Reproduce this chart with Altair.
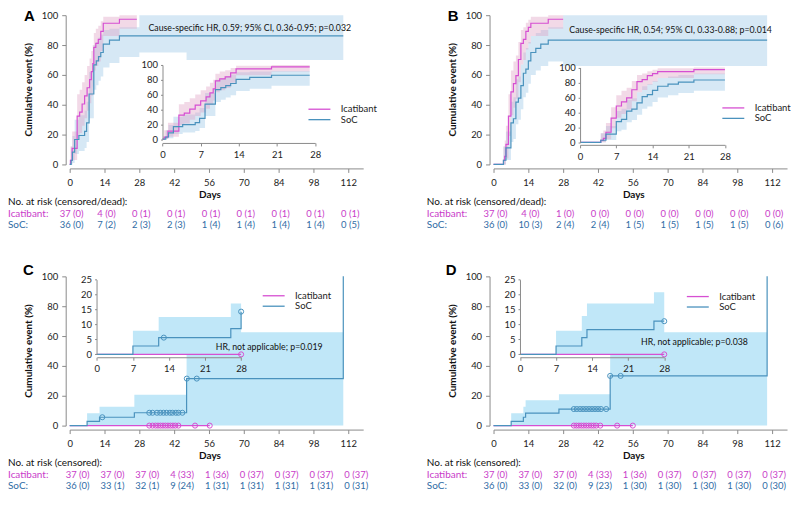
import altair as alt
import pandas as pd

FONT = "Lato"
AXC = "#8a8a8a"
LBL = "#222222"
C_IC = "#d64fd2"
C_SOC = "#4a92bd"
T_IC = "#c93cc9"
T_SOC = "#2f6ca5"
BAND_IC = "#dfa0c4"
BAND_SOC = "#a3cde9"
BAND_SOC_CD = "#c0e7f8"

GROUPS = ["Icatibant", "SoC"]
RISK_T = [0, 14, 28, 42, 56, 70, 84, 98, 112]
Y_TICKS = [0, 20, 40, 60, 80, 100]
INSET_X_TICKS = [0, 7, 14, 21, 28]
INSET_Y_TICKS_CD = [0, 5, 10, 15, 20, 25]

# ---------------- Panel A ----------------
A_IC_T = [0, 0.3, 1, 3, 4, 5, 6, 7, 8, 8.7, 9.3, 9.7, 10.5, 11.5, 12.5, 13.5, 20, 27]
A_IC_V = [0, 2.7, 10.8, 32.4, 35.1, 40.5, 45.9, 51.4, 56.8, 62.2, 67.6, 78.4, 81.1, 83.8, 89.2, 94.6, 97.3, 97.3]
A_IC_LO = [0, 0, 3, 19, 21, 26, 31, 36, 41, 46, 52, 63, 66, 69, 76, 86, 91, 91]
A_IC_HI = [0, 12, 22, 47, 50, 55, 60, 66, 71, 76, 80, 88, 91, 93, 96, 99, 100, 100]
A_SOC_T = [0, 0.6, 1.1, 2, 3.7, 6, 6.8, 7.8, 9.7, 10.7, 11.6, 12.5, 13.5, 16, 20, 110]
A_SOC_V = [0, 2.8, 8.3, 16.7, 19.4, 22.2, 27.8, 47.2, 66.7, 69.4, 72.2, 75.0, 80.6, 83.3, 86.1, 86.1]
A_SOC_BT = [0, 0.6, 1.1, 2, 3.7, 6, 6.8, 7.8, 9.7, 10.7, 11.6, 12.5, 13.5, 16, 20, 28, 47, 110]
A_SOC_LO = [0, 0, 1, 7, 9, 11, 15, 31, 50, 53, 56, 59, 65, 68, 72, 75, 70, 70]
A_SOC_HI = [0, 12, 19, 30, 33, 36, 42, 62, 80, 82, 85, 87, 90, 91, 92, 100, 100, 100]
A_RISK_IC = ["37 (0)", "4 (0)", "0 (1)", "0 (1)", "0 (1)", "0 (1)", "0 (1)", "0 (1)", "0 (1)"]
A_RISK_SOC = ["36 (0)", "7 (2)", "2 (3)", "2 (3)", "1 (4)", "1 (4)", "1 (4)", "1 (4)", "0 (5)"]

# ---------------- Panel B ----------------
B_IC_T = [0, 4, 4.5, 5, 6, 7, 8, 9, 10, 11, 12, 13, 14, 15, 22, 28]
B_IC_V = [0, 2.7, 5.4, 13.5, 32.4, 48.6, 54.1, 59.5, 70.3, 81.1, 83.8, 89.2, 91.9, 94.6, 97.3, 97.3]
B_IC_LO = [0, 0, 0, 4, 19, 33, 38, 44, 55, 67, 70, 77, 81, 86, 91, 91]
B_IC_HI = [0, 12, 16, 26, 47, 63, 69, 73, 82, 90, 92, 95, 97, 99, 100, 100]
B_SOC_T = [0, 4, 5, 7, 8, 9, 10, 11, 12, 13, 14, 15, 17, 19, 22, 110]
B_SOC_V = [0, 2.8, 11.1, 27.8, 30.6, 41.7, 44.4, 52.8, 61.1, 63.9, 69.4, 75.0, 77.8, 80.6, 83.3, 83.3]
B_SOC_BT = [0, 4, 5, 7, 8, 9, 10, 11, 12, 13, 14, 15, 17, 19, 22, 28, 110]
B_SOC_LO = [0, 0, 3, 15, 17, 27, 30, 37, 45, 48, 54, 60, 63, 66, 69, 66, 66]
B_SOC_HI = [0, 12, 22, 42, 45, 57, 59, 67, 75, 78, 82, 86, 88, 90, 92, 100, 100]
B_RISK_IC = ["37 (0)", "4 (0)", "1 (0)", "0 (0)", "0 (0)", "0 (0)", "0 (0)", "0 (0)", "0 (0)"]
B_RISK_SOC = ["36 (0)", "10 (3)", "2 (4)", "2 (4)", "1 (5)", "1 (5)", "1 (5)", "1 (5)", "0 (6)"]

# ---------------- Panel C ----------------
C_IC_T = [0, 56.3]
C_IC_V = [0, 0]
C_IC_CENS_T = [32, 33.3, 34.5, 35.5, 36.5, 37.5, 38.5, 39.5, 40.5, 41.5, 42.5, 43.7, 50.4, 56.3]
C_SOC_T = [0, 7, 12, 26, 47, 110]
C_SOC_V = [0, 2.8, 5.6, 8.6, 31.5, 100]
C_SOC_CENS_T = [13.1, 32, 33.3, 35.1, 36.4, 37.7, 38.9, 40.3, 41.3, 42.7, 43.7, 45.3, 47.1, 51.1]
C_SOC_CENS_V = [5.6, 8.6, 8.6, 8.6, 8.6, 8.6, 8.6, 8.6, 8.6, 8.6, 8.6, 8.6, 31.5, 31.5]
C_SOC_BT = [7, 12, 26, 47, 110]
C_SOC_BLO = [0, 0, 0, 0, 0]
C_SOC_BHI = [8.3, 12.6, 20.7, 62.6, 62.6]
CI_IC_T = [0, 28]
CI_IC_V = [0, 0]
CI_IC_CENS_T = [28]
CI_SOC_T = [0, 7, 12, 26, 28]
CI_SOC_V = [0, 2.8, 5.6, 8.6, 14.3]
CI_SOC_CENS_T = [13, 28]
CI_SOC_CENS_V = [5.6, 14.3]
CI_SOC_BT = [7, 12, 26, 28]
CI_SOC_BLO = [0, 0, 0, 0]
CI_SOC_BHI = [7.9, 12.5, 17.0, 17.0]
C_RISK_IC = ["37 (0)", "37 (0)", "37 (0)", "4 (33)", "1 (36)", "0 (37)", "0 (37)", "0 (37)", "0 (37)"]
C_RISK_SOC = ["36 (0)", "33 (1)", "32 (1)", "9 (24)", "1 (31)", "1 (31)", "1 (31)", "1 (31)", "0 (31)"]

# ---------------- Panel D ----------------
D_IC_T = [0, 56]
D_IC_V = [0, 0]
D_IC_CENS_T = [32.3, 33.3, 34.3, 35.3, 36.3, 37.3, 38.3, 39.3, 40.3, 41.3, 42.9, 49.7, 56]
D_SOC_T = [0, 7.1, 12, 12.9, 26.3, 46.9, 110]
D_SOC_V = [0, 2.8, 5.6, 8.3, 11.1, 33.3, 100]
D_SOC_CENS_T = [32.3, 33.5, 34.8, 36, 37.2, 38.4, 39.6, 40.8, 42, 43.2, 45.3, 46.9, 51.1]
D_SOC_CENS_V = [11.1, 11.1, 11.1, 11.1, 11.1, 11.1, 11.1, 11.1, 11.1, 11.1, 11.1, 33.3, 33.3]
D_SOC_BT = [7.1, 12, 12.9, 26.3, 46.9, 110]
D_SOC_BLO = [0, 0, 0, 0, 0, 0]
D_SOC_BHI = [8.3, 12.6, 17, 21, 62.6, 62.6]
DI_IC_T = [0, 28]
DI_IC_V = [0, 0]
DI_IC_CENS_T = [28]
DI_SOC_T = [0, 7, 12, 13, 26, 28]
DI_SOC_V = [0, 2.8, 5.6, 8.3, 11.1, 11.1]
DI_SOC_CENS_T = [28]
DI_SOC_CENS_V = [11.1]
DI_SOC_BT = [7, 12, 13, 26, 28]
DI_SOC_BLO = [0, 0, 0, 0, 0]
DI_SOC_BHI = [7.9, 12.8, 17, 20.8, 20.8]
D_RISK_IC = ["37 (0)", "37 (0)", "37 (0)", "4 (33)", "1 (36)", "0 (37)", "0 (37)", "0 (37)", "0 (37)"]
D_RISK_SOC = ["36 (0)", "33 (0)", "32 (0)", "9 (23)", "1 (30)", "1 (30)", "1 (30)", "1 (30)", "0 (30)"]

W, H = 295, 150
X_MAX = 118
ROW_Y = dict(days=181, label=187.5, ic=199.5, soc=210.5)


def clip(end, t, *cols):
    keep = [i for i, a in enumerate(t) if a <= end]
    out_t = [t[i] for i in keep]
    out_cols = [[c[i] for i in keep] for c in cols]
    if out_t[-1] < end:
        out_t.append(end)
        for c in out_cols:
            c.append(c[-1])
    return [out_t] + out_cols


def text_layer(txt, x, y, size=9.5, bold=False, color=LBL, align="left",
               baseline="middle", angle=0, font=FONT):
    return alt.Chart(pd.DataFrame({"s": [txt]})).mark_text(
        font=font, fontSize=size, fontWeight="bold" if bold else "normal",
        color=color, align=align, baseline=baseline, angle=angle
    ).encode(x=alt.value(x), y=alt.value(y), text="s:N")


def axis(values, offset, tick, pad, orient=None, z=0):
    kw = dict(values=values, title=None, grid=False, offset=offset, tickSize=tick,
              labelPadding=pad, domainColor=AXC, tickColor=AXC, domainWidth=1,
              labelFont=FONT, labelFontSize=9.5, labelColor=LBL,
              labelFlush=False, labelOverlap=False, zindex=z)
    if orient:
        kw["orient"] = orient
    return alt.Axis(**kw)


def group_layers(sx, sy, axx, axy, bands, lines, cens, legend):
    X = lambda f: alt.X(f, type="quantitative", scale=sx, axis=axx)
    Y = lambda f: alt.Y(f, type="quantitative", scale=sy, axis=axy)
    layers = []
    for (t, lo, hi, col, op) in bands:
        df = pd.DataFrame({"t": t, "lo": lo, "hi": hi})
        layers.append(alt.Chart(df).mark_area(interpolate="step-after", color=col, opacity=op)
                      .encode(x=X("t"), y=Y("lo"), y2=alt.Y2("hi")))
    rows = []
    for (g, t, v) in lines:
        for a, b in zip(t, v):
            rows.append({"g": g, "t": a, "v": b})
    color = alt.Color("g:N", scale=alt.Scale(domain=GROUPS, range=[C_IC, C_SOC]), legend=legend)
    layers.append(alt.Chart(pd.DataFrame(rows)).mark_line(interpolate="step-after", strokeWidth=1.2)
                  .encode(x=X("t"), y=Y("v"), color=color))
    for (t, v, col) in cens:
        df = pd.DataFrame({"t": t, "v": v})
        layers.append(alt.Chart(df).mark_point(shape="circle", filled=False, size=26, strokeWidth=1,
                                               color=col, opacity=1)
                      .encode(x=X("t"), y=Y("v")))
    return layers, X


def panel(c):
    sx = alt.Scale(domain=[0, X_MAX], nice=False, zero=False)
    sy = alt.Scale(domain=[0, 100], nice=False, zero=False)
    axx = axis(RISK_T, 4, 4, 5)
    axy = axis(Y_TICKS, 4, 4, 4)
    legend = alt.Legend(orient="none", legendX=c["legend"][0], legendY=c["legend"][1], title=None,
                        symbolType="M-1,0H3.9", symbolSize=81, symbolStrokeWidth=1.3,
                        labelOffset=22.5, labelFont=FONT, labelFontSize=9.5, labelColor=LBL,
                        rowPadding=0.5, padding=0)
    main_layers, X = group_layers(sx, sy, axx, axy, c["bands"], c["lines"], c["cens"], legend)

    risk = pd.DataFrame({"t": RISK_T, "ic": c["risk_ic"], "soc": c["risk_soc"]})
    main_layers.append(alt.Chart(risk).mark_text(font=FONT, fontSize=9.5, color=T_IC, dx=c["risk_dx"])
                       .encode(x=X("t"), y=alt.value(ROW_Y["ic"]), text="ic:N"))
    main_layers.append(alt.Chart(risk).mark_text(font=FONT, fontSize=9.5, color=T_SOC, dx=c["risk_dx"])
                       .encode(x=X("t"), y=alt.value(ROW_Y["soc"]), text="soc:N"))

    ins = c["inset"]
    isx = alt.Scale(domain=[0, 28], range=[ins["x0"], ins["x1"]], nice=False, zero=False)
    isy = alt.Scale(domain=[0, ins["ymax"]], range=[ins["yb"], ins["yt"]], nice=False, zero=False)
    iaxx = axis(INSET_X_TICKS, ins["xoff"], 3, 3.5, orient="bottom", z=1)
    iaxy = axis(ins["yticks"], ins["yoff"], 2, 3, orient="left", z=1)
    inset_layers, _ = group_layers(isx, isy, iaxx, iaxy, ins["bands"], ins["lines"], ins["cens"], legend)

    text_layers = [
        text_layer(c["letter"], c["letter_x"], c["letter_y"], size=15, bold=True, color="#000000",
                   baseline="top", font="Liberation Sans"),
        text_layer("Cumulative event (%)", -41, 75, size=10, bold=True, color="#111111",
                   align="center", angle=270),
        text_layer("Days", 141, ROW_Y["days"], size=10, bold=True, color="#111111", align="center"),
        text_layer(c["risk_label"], c["risk_x"], ROW_Y["label"], size=10, color="#111111"),
        text_layer("Icatibant:", c["risk_x"], ROW_Y["ic"], size=10, color=T_IC),
        text_layer("SoC:", c["risk_x"], ROW_Y["soc"], size=10, color=T_SOC),
        text_layer(c["hr"], c["hr_pos"][0], c["hr_pos"][1], size=8.8, align="center", color="#111111"),
    ]

    return alt.layer(alt.layer(*main_layers), alt.layer(*inset_layers), *text_layers).resolve_scale(
        x="independent", y="independent").properties(width=W, height=H)


def ab_inset(end, ic, soc, socb, geom):
    it, iv, ilo, ihi = clip(end, *ic)
    st, sv = clip(end, *soc)
    bt, blo, bhi = clip(end, *socb)
    d = dict(geom)
    d["bands"] = [(bt, blo, bhi, BAND_SOC, 0.45), (it, ilo, ihi, BAND_IC, 0.4)]
    d["lines"] = [("Icatibant", it, iv), ("SoC", st, sv)]
    d["cens"] = []
    return d


cfgA = dict(
    letter="A", letter_x=-46, letter_y=-6, risk_label="No. at risk (censored/dead):",
    risk_x=-62, risk_dx=2, risk_ic=A_RISK_IC, risk_soc=A_RISK_SOC,
    hr="Cause-specific HR, 0.59; 95% CI, 0.36-0.95; p=0.032", hr_pos=(181, 12.4),
    bands=[(A_SOC_BT, A_SOC_LO, A_SOC_HI, BAND_SOC, 0.45), (A_IC_T, A_IC_LO, A_IC_HI, BAND_IC, 0.4)],
    lines=[("Icatibant", A_IC_T, A_IC_V), ("SoC", A_SOC_T, A_SOC_V)],
    cens=[], legend=(239, 89),
    inset=ab_inset(27, (A_IC_T, A_IC_V, A_IC_LO, A_IC_HI), (A_SOC_T, A_SOC_V),
                   (A_SOC_BT, A_SOC_LO, A_SOC_HI),
                   dict(x0=93.3, x1=246.7, yb=124.5, yt=50, ymax=100, yticks=Y_TICKS,
                        xoff=-21.6, yoff=-93.3)),
)

cfgB = dict(
    letter="B", letter_x=-46, letter_y=-6, risk_label="No. at risk (censored/dead):",
    risk_x=-67, risk_dx=2, risk_ic=B_RISK_IC, risk_soc=B_RISK_SOC,
    hr="Cause-specific HR, 0.54; 95% CI, 0.33-0.88; p=0.014", hr_pos=(178, 14.4),
    bands=[(B_SOC_BT, B_SOC_LO, B_SOC_HI, BAND_SOC, 0.45), (B_IC_T, B_IC_LO, B_IC_HI, BAND_IC, 0.4)],
    lines=[("Icatibant", B_IC_T, B_IC_V), ("SoC", B_SOC_T, B_SOC_V)],
    cens=[], legend=(229, 87.7),
    inset=ab_inset(28, (B_IC_T, B_IC_V, B_IC_LO, B_IC_HI), (B_SOC_T, B_SOC_V),
                   (B_SOC_BT, B_SOC_LO, B_SOC_HI),
                   dict(x0=87, x1=232.6, yb=127.8, yt=52.6, ymax=100, yticks=Y_TICKS,
                        xoff=-19.7, yoff=-87)),
)

cfgC = dict(
    letter="C", letter_x=-47, letter_y=-13, risk_label="No. at risk (censored):",
    risk_x=-62, risk_dx=8, risk_ic=C_RISK_IC, risk_soc=C_RISK_SOC,
    hr="HR, not applicable; p=0.019", hr_pos=(200.5, 71),
    bands=[(C_SOC_BT, C_SOC_BLO, C_SOC_BHI, BAND_SOC_CD, 1)],
    lines=[("Icatibant", C_IC_T, C_IC_V), ("SoC", C_SOC_T, C_SOC_V)],
    cens=[(C_IC_CENS_T, [0] * len(C_IC_CENS_T), C_IC), (C_SOC_CENS_T, C_SOC_CENS_V, C_SOC)],
    legend=(193, 14),
    inset=dict(x0=27.3, x1=172.3, yb=78.4, yt=3.3, ymax=25, yticks=INSET_Y_TICKS_CD,
               xoff=-68.7, yoff=-27,
               bands=[(CI_SOC_BT, CI_SOC_BLO, CI_SOC_BHI, BAND_SOC_CD, 1)],
               lines=[("Icatibant", CI_IC_T, CI_IC_V), ("SoC", CI_SOC_T, CI_SOC_V)],
               cens=[(CI_IC_CENS_T, [0], C_IC), (CI_SOC_CENS_T, CI_SOC_CENS_V, C_SOC)]),
)

cfgD = dict(
    letter="D", letter_x=-48, letter_y=-13, risk_label="No. at risk (censored):",
    risk_x=-67, risk_dx=2, risk_ic=D_RISK_IC, risk_soc=D_RISK_SOC,
    hr="HR, not applicable; p=0.038", hr_pos=(202, 66),
    bands=[(D_SOC_BT, D_SOC_BLO, D_SOC_BHI, BAND_SOC_CD, 1)],
    lines=[("Icatibant", D_IC_T, D_IC_V), ("SoC", D_SOC_T, D_SOC_V)],
    cens=[(D_IC_CENS_T, [0] * len(D_IC_CENS_T), C_IC), (D_SOC_CENS_T, D_SOC_CENS_V, C_SOC)],
    legend=(193.3, 14.8),
    inset=dict(x0=26.6, x1=171.6, yb=78.4, yt=3.3, ymax=25, yticks=INSET_Y_TICKS_CD,
               xoff=-68.7, yoff=-26.6,
               bands=[(DI_SOC_BT, DI_SOC_BLO, DI_SOC_BHI, BAND_SOC_CD, 1)],
               lines=[("Icatibant", DI_IC_T, DI_IC_V), ("SoC", DI_SOC_T, DI_SOC_V)],
               cens=[(DI_IC_CENS_T, [0], C_IC), (DI_SOC_CENS_T, DI_SOC_CENS_V, C_SOC)]),
)

chart = alt.concat(
    panel(cfgA), panel(cfgB), panel(cfgC), panel(cfgD),
    columns=2, spacing={"row": 112.5, "column": 131}, bounds="flush", padding=0,
).resolve_scale(color="independent").resolve_legend(color="independent").configure_view(stroke=None)

chart.save("out.html", embed_options={"renderer": "svg", "actions": False})
